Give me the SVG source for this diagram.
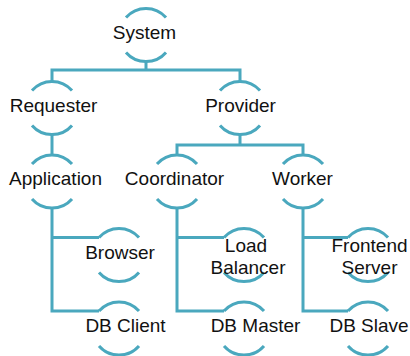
<svg xmlns="http://www.w3.org/2000/svg" xmlns:xlink="http://www.w3.org/1999/xlink" width="410" height="356" viewBox="0 0 410 356">
  <style>
    .ln { fill: none; stroke: #4aa8be; stroke-width: 3; }
    .lb { font-family: "Liberation Sans", Arial, sans-serif; font-size: 19px; fill: #111; text-anchor: middle; }
  </style>
  <defs>
    <!-- node outline: top and bottom arcs of a circle centred at 0,0 -->
    <path id="ring" class="ln" d="M-20,-17.4 A26.5,26.5 0 0 1 20,-17.4 M-20,17.4 A26.5,26.5 0 0 0 20,17.4"/>
  </defs>
  <rect width="410" height="356" fill="#fff"/>

  <g id="connectors" class="ln">
    <path d="M146,61.5 V70 M52,81.5 V70 H240 V81.5"/>
    <path d="M52,134.5 V155"/>
    <path d="M240,134.5 V145 M177,155 V145 H303 V155"/>
    <path d="M52,208 V311.1 H99 M52,237.6 H99"/>
    <path d="M177,208 V311.1 H224 M177,237.6 H224"/>
    <path d="M303,208 V311.1 H348 M303,237.6 H348"/>
  </g>

  <g id="system" transform="translate(146,35)">
    <use xlink:href="#ring"/>
    <text class="lb" x="-1.5" y="3.5">System</text>
  </g>
  <g id="requester" transform="translate(52,108)">
    <use xlink:href="#ring"/>
    <text class="lb" x="1.5" y="4">Requester</text>
  </g>
  <g id="provider" transform="translate(240,108)">
    <use xlink:href="#ring"/>
    <text class="lb" x="0.5" y="4">Provider</text>
  </g>
  <g id="application" transform="translate(52,181.5)">
    <use xlink:href="#ring"/>
    <text class="lb" x="3.5" y="3.5">Application</text>
  </g>
  <g id="coordinator" transform="translate(177,181.5)">
    <use xlink:href="#ring"/>
    <text class="lb" x="-2.5" y="3.5">Coordinator</text>
  </g>
  <g id="worker" transform="translate(303,181.5)">
    <use xlink:href="#ring"/>
    <text class="lb" x="-0.5" y="3.5">Worker</text>
  </g>
  <g id="browser" transform="translate(119,255)">
    <use xlink:href="#ring"/>
    <text class="lb" x="1" y="3.7">Browser</text>
  </g>
  <g id="load-balancer" transform="translate(244,255)">
    <use xlink:href="#ring"/>
    <text class="lb" x="2" y="-3.5">Load</text>
    <text class="lb" x="4" y="19">Balancer</text>
  </g>
  <g id="frontend-server" transform="translate(368,255)">
    <use xlink:href="#ring"/>
    <text class="lb" x="1.5" y="-3.5">Frontend</text>
    <text class="lb" x="1.5" y="19">Server</text>
  </g>
  <g id="db-client" transform="translate(119,328.5)">
    <use xlink:href="#ring"/>
    <text class="lb" x="6.5" y="3.5">DB Client</text>
  </g>
  <g id="db-master" transform="translate(244,328.5)">
    <use xlink:href="#ring"/>
    <text class="lb" x="11.5" y="3.5">DB Master</text>
  </g>
  <g id="db-slave" transform="translate(368,328.5)">
    <use xlink:href="#ring"/>
    <text class="lb" x="1" y="3.5">DB Slave</text>
  </g>
</svg>
